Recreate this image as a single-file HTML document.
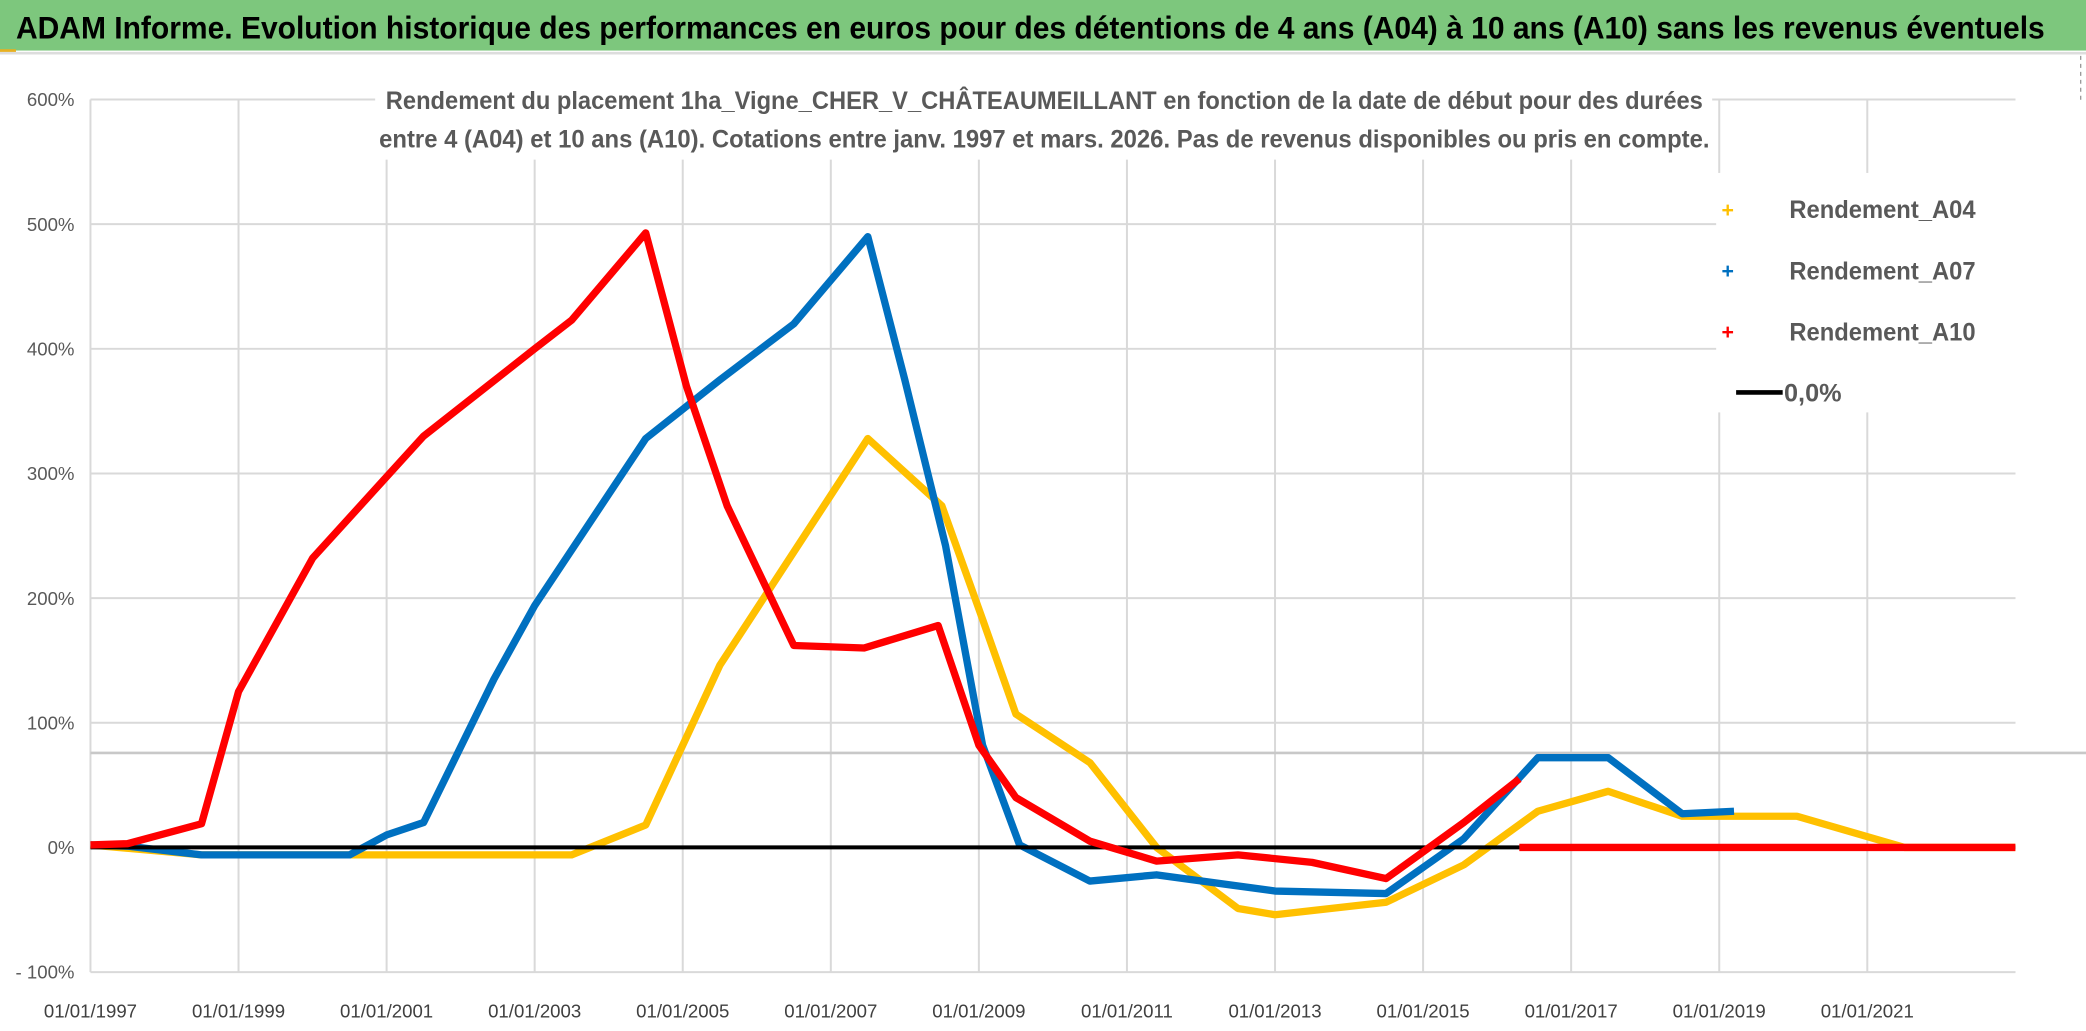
<!DOCTYPE html>
<html><head><meta charset="utf-8"><style>
html,body{margin:0;padding:0;background:#fff;}
svg{display:block;font-family:"Liberation Sans",sans-serif;}
</style></head><body>
<svg id="chart" width="2086" height="1031" viewBox="0 0 1568 775" preserveAspectRatio="none">
<rect x="0" y="0" width="1568" height="775" fill="#fff"/>
<rect x="0" y="0" width="1568" height="38" fill="#7dc77d"/>
<rect x="0" y="37" width="12" height="3" fill="#e8b020"/>
<line x1="0" y1="40" x2="1568" y2="40" stroke="#ddd" stroke-width="2"/>
<text x="12" y="29" font-size="24" font-weight="bold" fill="#000" textLength="1525" lengthAdjust="spacingAndGlyphs">ADAM Informe. Evolution historique des performances en euros pour des détentions de 4 ans (A04) à 10 ans (A10) sans les revenus éventuels</text>
<line x1="1564" y1="42" x2="1564" y2="75" stroke="#999" stroke-dasharray="3,3"/>
<g id="grid"></g>
<line x1="68" y1="566" x2="1568" y2="566" stroke="#c8c8c8" stroke-width="2"/>
<rect x="282" y="58" width="1005" height="62" fill="#fff"/>
<text x="785" y="82" font-size="19" font-weight="bold" fill="#595959" text-anchor="middle" textLength="990" lengthAdjust="spacingAndGlyphs">Rendement du placement 1ha_Vigne_CHER_V_CHÂTEAUMEILLANT en fonction de la date de début pour des durées</text>
<text x="785" y="111" font-size="19" font-weight="bold" fill="#595959" text-anchor="middle" textLength="1000" lengthAdjust="spacingAndGlyphs">entre 4 (A04) et 10 ans (A10). Cotations entre janv. 1997 et mars. 2026. Pas de revenus disponibles ou pris en compte.</text>
<g id="series"></g>
<g>
<rect x="1290" y="130" width="225" height="180" fill="#fff"/>
<text x="1294" y="163" font-size="16" fill="#ffc000" font-weight="bold">+</text>
<text x="1345" y="164" font-size="19" font-weight="bold" fill="#595959" textLength="140" lengthAdjust="spacingAndGlyphs">Rendement_A04</text>
<text x="1294" y="209" font-size="16" fill="#0070c0" font-weight="bold">+</text>
<text x="1345" y="210" font-size="19" font-weight="bold" fill="#595959" textLength="140" lengthAdjust="spacingAndGlyphs">Rendement_A07</text>
<text x="1294" y="255" font-size="16" fill="#ff0000" font-weight="bold">+</text>
<text x="1345" y="256" font-size="19" font-weight="bold" fill="#595959" textLength="140" lengthAdjust="spacingAndGlyphs">Rendement_A10</text>
<line x1="1305" y1="295" x2="1340" y2="295" stroke="#000" stroke-width="3.5"/>
<text x="1341" y="302" font-size="19" font-weight="bold" fill="#595959">0,0%</text>
</g>
</svg>
<script>
const yTicks=[600,500,400,300,200,100,0,-100];
const yTickLabels=['600%','500%','400%','300%','200%','100%','0%','- 100%'];
const xTicks=[1997,1999,2001,2003,2005,2007,2009,2011,2013,2015,2017,2019,2021];
const xTickLabels=['01/01/1997','01/01/1999','01/01/2001','01/01/2003','01/01/2005','01/01/2007','01/01/2009','01/01/2011','01/01/2013','01/01/2015','01/01/2017','01/01/2019','01/01/2021'];
const a04T=[1997,1998.5,2003.5,2004.5,2005.5,2007.5,2008.5,2009.05,2009.5,2010.5,2011.4,2012.5,2013,2014.5,2015.55,2016.55,2017.5,2018.5,2020.05,2021.5,2023];
const a04V=[2,-6,-6,18,146,328,274,183,107,68,0,-49,-54,-44,-14,29,45,25,25,0,0];
const a07T=[1997,1997.5,1998.5,2000.5,2001,2001.5,2002.45,2003,2004.5,2005.5,2006.5,2007.5,2008,2008.55,2009.05,2009.55,2010.5,2011.4,2013,2014.5,2015.55,2016.55,2017.5,2018.5,2019.2];
const a07V=[2,1,-6,-6,10,20,135,194,328,375,420,490,375,242,82,2,-27,-22,-35,-37,7,72,72,27,29];
const a10T=[1997,1997.5,1998.5,1999,2000,2001.5,2003,2003.5,2004.5,2005.05,2005.6,2006.5,2007.45,2008.45,2009,2009.5,2010.5,2011.4,2012.5,2013.5,2014.5,2015.55,2016.3];
const a10V=[2,3,19,125,232,330,400,423,493,370,274,162,160,178,82,40,5,-11,-6,-12,-25,20,55];
const a10bT=[2016.3,2023];
const a10bV=[0,0];
const NS='http://www.w3.org/2000/svg';
const X=t=>68+(t-1997)*55.65;
const Y=v=>637-v*0.937;
const grid=document.getElementById('grid'),ser=document.getElementById('series');
function mk(tag,attrs,parent){const e=document.createElementNS(NS,tag);for(const k in attrs)e.setAttribute(k,attrs[k]);parent.appendChild(e);return e;}
yTicks.forEach((v,i)=>{
  const l=mk('line',{x1:68,x2:1515,y1:Y(v),y2:Y(v),stroke:'#d9d9d9','stroke-width':1.5},grid);
  
  
  const t=mk('text',{x:56,y:Y(v)+5,'font-size':14,fill:'#595959','text-anchor':'end'},grid);
  t.textContent=yTickLabels[i];
  
  
});
xTicks.forEach((v,i)=>{
  const l=mk('line',{x1:X(v),x2:X(v),y1:Y(600),y2:Y(-100),stroke:'#d9d9d9','stroke-width':1.5},grid);
  
  
  const t=mk('text',{x:X(v),y:765,'font-size':14,fill:'#404040','text-anchor':'middle'},grid);
  t.textContent=xTickLabels[i];
  
  
});
function line(T,V,color,name){
  const p=mk('polyline',{points:T.map((t,i)=>X(t)+','+Y(V[i])).join(' '),fill:'none',stroke:color,'stroke-width':5.5,'stroke-linejoin':'round'},ser);
  
  
}
line(a04T,a04V,'#ffc000','series-a04');
line(a07T,a07V,'#0070c0','series-a07');
const z=mk('line',{x1:X(1997),x2:X(2023),y1:Y(0),y2:Y(0),stroke:'#000','stroke-width':3},ser);


line(a10T,a10V,'#ff0000','series-a10');
line(a10bT,a10bV,'#ff0000','series-a10-tail');
</script>
</body></html>
